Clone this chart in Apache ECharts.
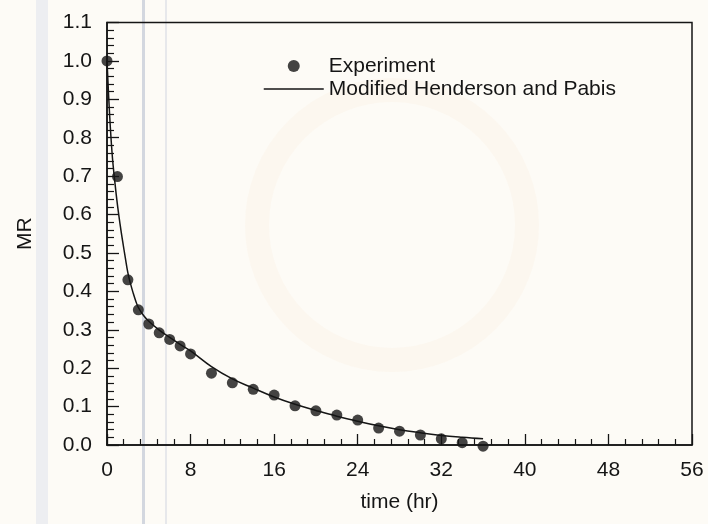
<!DOCTYPE html>
<html>
<head>
<meta charset="utf-8">
<script src="https://cdn.jsdelivr.net/npm/echarts@6/dist/echarts.min.js"></script>
<style>html,body{margin:0;padding:0;background:#fdfbf6;}#c{width:708px;height:524px;}</style>
</head>
<body>
<div id="c"></div>
<script>
// Experimental data (time in hr, moisture ratio)
const expTime = [0, 1, 2, 3, 4, 5, 6, 7, 8, 10, 12, 14, 16, 18, 20, 22, 24, 26, 28, 30, 32, 34, 36];
const expMR   = [1.0, 0.699, 0.430, 0.352, 0.315, 0.292, 0.275, 0.258, 0.237, 0.187, 0.162, 0.145, 0.130, 0.102, 0.089, 0.078, 0.065, 0.044, 0.036, 0.026, 0.016, 0.006, -0.003];
// Fitted curve
const fitTime = [0, 0.25, 0.5, 0.75, 1, 1.25, 1.5, 1.75, 2, 2.25, 2.5, 2.75, 3, 3.5, 4, 5, 6, 7, 8, 10, 12, 14, 16, 18, 20, 22, 24, 26, 28, 30, 32, 34, 36];
const fitMR   = [1.0, 0.86, 0.755, 0.685, 0.625, 0.575, 0.53, 0.488, 0.448, 0.42, 0.396, 0.375, 0.358, 0.337, 0.322, 0.299, 0.280, 0.262, 0.245, 0.204, 0.172, 0.148, 0.125, 0.106, 0.090, 0.075, 0.062, 0.050, 0.040, 0.032, 0.025, 0.020, 0.016];
// Axes
const xTicks = [0, 8, 16, 24, 32, 40, 48, 56];
const yTicks = [0.0, 0.1, 0.2, 0.3, 0.4, 0.5, 0.6, 0.7, 0.8, 0.9, 1.0, 1.1];
const seriesNames = ['Experiment', 'Modified Henderson and Pabis'];
const xTitle = 'time (hr)';
const yTitle = 'MR';

const font = 'Liberation Sans, Arial, sans-serif';
const ink = '#151515';
const chart = echarts.init(document.getElementById('c'), null, {renderer: 'canvas'});
chart.setOption({
  animation: false,
  backgroundColor: '#fdfbf6',
  graphic: [
    {type: 'rect', z: -10, shape: {x: 36, y: 0, width: 12, height: 524}, style: {fill: 'rgba(205,214,232,0.35)'}},
    {type: 'rect', z: -10, shape: {x: 142, y: 0, width: 3, height: 524}, style: {fill: 'rgba(160,170,195,0.45)'}},
    {type: 'rect', z: -10, shape: {x: 165, y: 0, width: 2, height: 524}, style: {fill: 'rgba(190,198,215,0.35)'}},
    {type: 'circle', z: -10, shape: {cx: 392, cy: 225, r: 135}, style: {fill: 'none', stroke: 'rgba(240,200,170,0.08)', lineWidth: 24}}
  ],
  grid: {left: 107, right: 16, top: 22.5, bottom: 79, show: true, borderColor: ink, borderWidth: 1.5, backgroundColor: 'transparent'},
  legend: {
    orient: 'vertical', left: 263, top: 54.5, padding: 0, itemGap: 0,
    itemWidth: 60, itemHeight: 12, itemTextGap: 9,
    textStyle: {fontFamily: font, fontSize: 21, color: ink, lineHeight: 23},
    data: [
      {name: seriesNames[0], icon: 'circle'},
      {name: seriesNames[1], itemStyle: {opacity: 0}, lineStyle: {color: ink, width: 1.5}}
    ]
  },
  xAxis: {
    type: 'value', min: xTicks[0], max: xTicks[xTicks.length - 1], interval: xTicks[1] - xTicks[0],
    name: xTitle, nameLocation: 'middle', nameGap: 47,
    nameTextStyle: {fontFamily: font, fontSize: 21, color: ink},
    axisLine: {show: true, onZero: false, lineStyle: {color: ink, width: 1.5}},
    axisTick: {show: true, inside: true, length: 11, lineStyle: {color: ink, width: 1.3}},
    minorTick: {show: true, splitNumber: 5, length: 6, lineStyle: {color: ink, width: 1.2}},
    axisLabel: {margin: 15, fontFamily: font, fontSize: 21, color: ink},
    splitLine: {show: false}
  },
  yAxis: {
    type: 'value', min: yTicks[0], max: yTicks[yTicks.length - 1], interval: 0.1,
    name: yTitle, nameLocation: 'middle', nameGap: 71, nameRotate: 90,
    nameTextStyle: {fontFamily: font, fontSize: 21, color: ink},
    axisLine: {show: true, onZero: false, lineStyle: {color: ink, width: 1.5}},
    axisTick: {show: true, inside: true, length: 12, lineStyle: {color: ink, width: 1.3}},
    minorTick: {show: true, splitNumber: 5, length: 7, lineStyle: {color: ink, width: 1.2}},
    axisLabel: {margin: 15, fontFamily: font, fontSize: 21, color: ink, formatter: v => v.toFixed(1)},
    splitLine: {show: false}
  },
  series: [
    {
      name: seriesNames[0], type: 'scatter', clip: false, z: 3,
      symbol: 'circle', symbolSize: 11,
      itemStyle: {color: ink},
      data: expTime.map((t, i) => [t, expMR[i]])
    },
    {
      name: seriesNames[1], type: 'line', showSymbol: false, symbol: 'none',
      smooth: 0.4, z: 2,
      lineStyle: {color: ink, width: 1.5},
      itemStyle: {color: ink},
      data: fitTime.map((t, i) => [t, fitMR[i]])
    }
  ]
});
</script>
</body>
</html>
